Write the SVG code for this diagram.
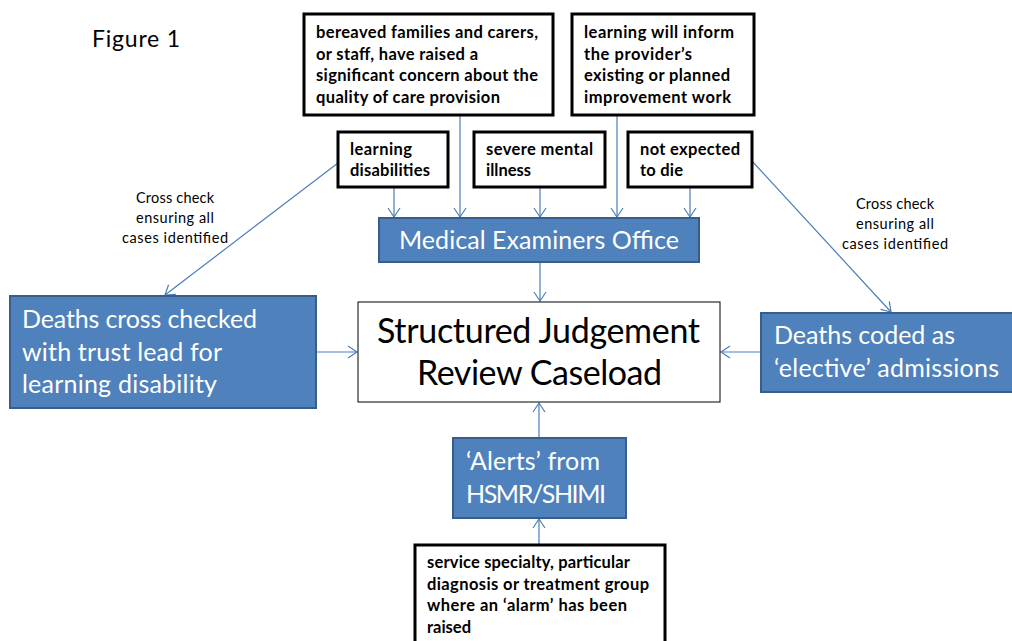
<svg xmlns="http://www.w3.org/2000/svg" width="1012" height="641" viewBox="0 0 1012 641">
<defs>
<marker id="arr" markerWidth="12" markerHeight="14" refX="10" refY="7" orient="auto" markerUnits="userSpaceOnUse">
<path d="M1,1 L10,7 L1,13" fill="none" stroke="#4A7EBB" stroke-width="1.2"/>
</marker>
<style>
.bx{fill:#fff;stroke:#000;stroke-width:3}
.bt{font-family:Lato,"Liberation Sans",sans-serif;font-weight:bold;font-size:16.5px;fill:#000}
.blue{fill:#4F81BD;stroke:#385D8A;stroke-width:2}
.wt{font-family:Lato,"Liberation Sans",sans-serif;fill:#fff;font-size:25px}
.cn{fill:none;stroke:#4A7EBB;stroke-width:1.2;marker-end:url(#arr)}
.lb{font-family:Lato,"Liberation Sans",sans-serif;font-size:14.5px;fill:#000;text-anchor:middle}
</style>
</defs>
<rect width="1012" height="641" fill="#fff"/>
<text x="92" y="47" font-family="Lato,'Liberation Sans',sans-serif" font-size="23" fill="#000" textLength="88">Figure 1</text>

<g id="connectors">
<line class="cn" x1="394" y1="187" x2="394" y2="217"/>
<line class="cn" x1="460" y1="115" x2="460" y2="217"/>
<line class="cn" x1="540" y1="187" x2="540" y2="217"/>
<line class="cn" x1="617" y1="115" x2="617" y2="217"/>
<line class="cn" x1="690" y1="187" x2="690" y2="217"/>
<line class="cn" x1="540" y1="263" x2="540" y2="301"/>
<line class="cn" x1="338" y1="163" x2="165" y2="295"/>
<line class="cn" x1="752" y1="161" x2="891" y2="312"/>
<line class="cn" x1="317" y1="352" x2="357" y2="352"/>
<line class="cn" x1="760" y1="352" x2="721" y2="352"/>
<line class="cn" x1="539" y1="437" x2="539" y2="403"/>
<line class="cn" x1="539" y1="544" x2="539" y2="519"/>
<text class="lb" x="175" y="203" textLength="78">Cross check</text>
<text class="lb" x="175" y="223" textLength="78">ensuring all</text>
<text class="lb" x="175" y="243" textLength="106">cases identified</text>
<text class="lb" x="895" y="209" textLength="78">Cross check</text>
<text class="lb" x="895" y="229" textLength="78">ensuring all</text>
<text class="lb" x="895" y="249" textLength="106">cases identified</text>
</g>

<g id="bereaved">
<rect class="bx" x="304" y="14" width="249" height="101"/>
<text class="bt" x="316" y="38" textLength="222">bereaved families and carers,</text>
<text class="bt" x="316" y="60" textLength="162">or staff, have raised a</text>
<text class="bt" x="316" y="81" textLength="222">significant concern about the</text>
<text class="bt" x="316" y="103" textLength="184">quality of care provision</text>
</g>

<g id="learning-inform">
<rect class="bx" x="572" y="14" width="182" height="101"/>
<text class="bt" x="584" y="38" textLength="150">learning will inform</text>
<text class="bt" x="584" y="60" textLength="108">the provider’s</text>
<text class="bt" x="584" y="81" textLength="146">existing or planned</text>
<text class="bt" x="584" y="103" textLength="147">improvement work</text>
</g>

<g id="learning-disabilities">
<rect class="bx" x="338" y="132" width="110" height="55"/>
<text class="bt" x="350" y="155" textLength="62">learning</text>
<text class="bt" x="350" y="176" textLength="80">disabilities</text>
</g>

<g id="severe-mental">
<rect class="bx" x="474" y="132" width="131" height="55"/>
<text class="bt" x="486" y="155" textLength="107">severe mental</text>
<text class="bt" x="486" y="176" textLength="45">illness</text>
</g>

<g id="not-expected">
<rect class="bx" x="628" y="132" width="124" height="55"/>
<text class="bt" x="640" y="155" textLength="100">not expected</text>
<text class="bt" x="640" y="176" textLength="43">to die</text>
</g>

<g id="medical-examiners">
<rect class="blue" x="379" y="218" width="320" height="44"/>
<text class="wt" x="399" y="249" textLength="280">Medical Examiners Office</text>
</g>

<g id="sjr">
<rect x="358" y="302" width="362" height="100" fill="#fff" stroke="#000" stroke-width="1"/>
<text x="377" y="343" font-family="Lato,'Liberation Sans',sans-serif" font-size="34" fill="#000" textLength="323">Structured Judgement</text>
<text x="417" y="385" font-family="Lato,'Liberation Sans',sans-serif" font-size="34" fill="#000" textLength="245">Review Caseload</text>
</g>

<g id="deaths-cross">
<rect class="blue" x="10" y="296" width="306" height="112"/>
<text class="wt" x="22" y="328" textLength="235">Deaths cross checked</text>
<text class="wt" x="22" y="361" textLength="200">with trust lead for</text>
<text class="wt" x="22" y="393" textLength="195">learning disability</text>
</g>

<g id="deaths-coded">
<rect class="blue" x="761" y="313" width="260" height="79"/>
<text class="wt" x="774" y="344" textLength="181">Deaths coded as</text>
<text class="wt" x="774" y="377" textLength="225">‘elective’ admissions</text>
</g>

<g id="alerts">
<rect class="blue" x="453" y="438" width="173" height="80"/>
<text class="wt" x="466" y="470" textLength="134">‘Alerts’ from</text>
<text class="wt" x="466" y="503" textLength="140">HSMR/SHIMI</text>
</g>

<g id="service-specialty">
<rect class="bx" x="415" y="545" width="250" height="110"/>
<text class="bt" x="427" y="568" textLength="203">service specialty, particular</text>
<text class="bt" x="427" y="590" textLength="222">diagnosis or treatment group</text>
<text class="bt" x="427" y="611" textLength="200">where an ‘alarm’ has been</text>
<text class="bt" x="427" y="633" textLength="44">raised</text>
</g>
</svg>
